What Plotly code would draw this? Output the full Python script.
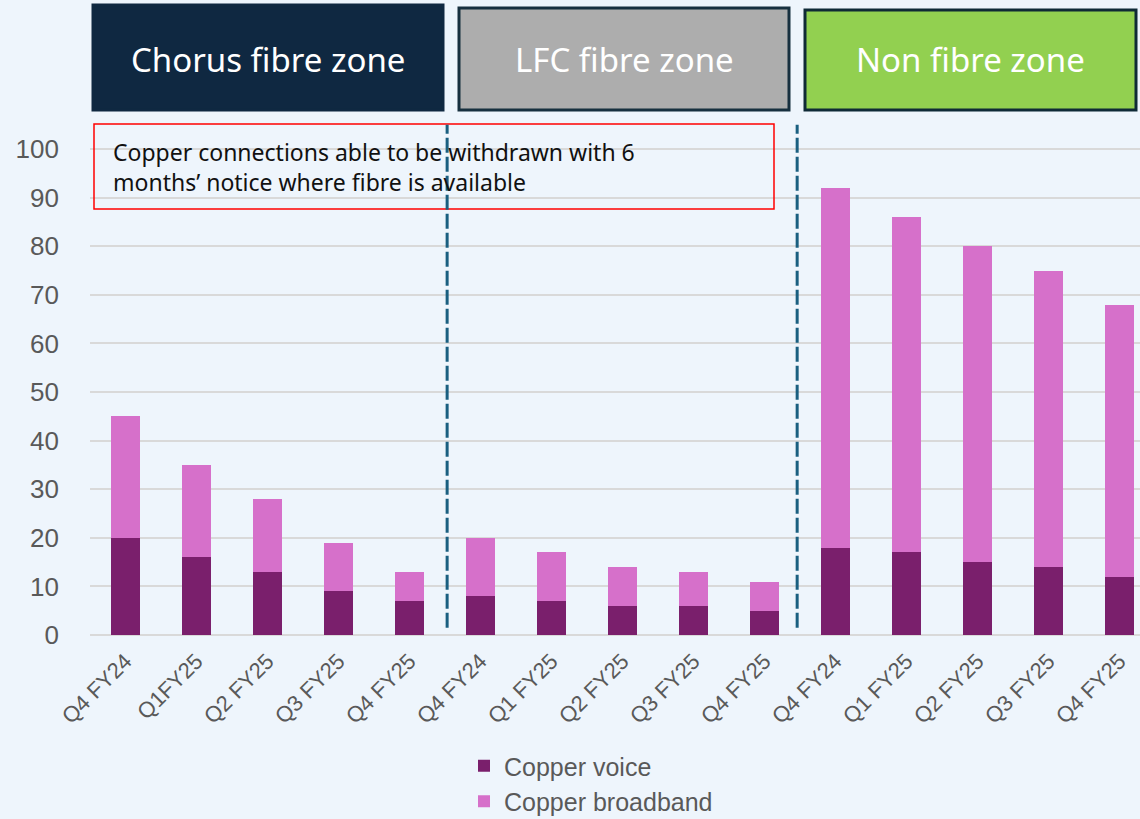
import plotly.graph_objects as go

categories = ["Q4 FY24", "Q1FY25", "Q2 FY25", "Q3 FY25", "Q4 FY25",
              "Q4 FY24", "Q1 FY25", "Q2 FY25", "Q3 FY25", "Q4 FY25",
              "Q4 FY24", "Q1 FY25", "Q2 FY25", "Q3 FY25", "Q4 FY25"]
copper_voice = [20, 16, 13, 9, 7, 8, 7, 6, 6, 5, 18, 17, 15, 14, 12]
copper_broadband = [25, 19, 15, 10, 6, 12, 10, 8, 7, 6, 74, 69, 65, 61, 56]
zone_names = ["Chorus fibre zone", "LFC fibre zone", "Non fibre zone"]
notice_text = "Copper connections able to be withdrawn with 6<br>months\u2019 notice where fibre is available"
y_ticks = [0, 10, 20, 30, 40, 50, 60, 70, 80, 90, 100]

W, H = 1140, 819
L, R, T, B = 90, 0, 122, 184
PW = W - L - R
PH = H - T - B


def px(x):
    return (x - L) / PW


def py(y):
    return (H - B - y) / PH


xs = list(range(len(categories)))
BG = "#EEF5FC"

fig = go.Figure()
fig.add_trace(go.Bar(x=xs, y=copper_voice, name="Copper voice", legendgroup="v",
                     marker=dict(color="#7A1F6C", line=dict(width=0))))
fig.add_trace(go.Bar(x=xs, y=copper_broadband, name="Copper broadband", legendgroup="b",
                     marker=dict(color="#D670CA", line=dict(width=0))))

shapes = []
annotations = []
boxes = [
    (93, 5, 443, 110, "#0F2841", "#0F2841"),
    (459, 8, 789, 110, "#ADADAD", "#17303F"),
    (805, 10, 1136, 110, "#92D050", "#0F2A36"),
]
for (x0, y0, x1, y1, fill, border), name in zip(boxes, zone_names):
    shapes.append(dict(type="rect", xref="paper", yref="paper",
                       x0=px(x0), x1=px(x1), y0=py(y1), y1=py(y0),
                       fillcolor=fill, line=dict(color=border, width=3), layer="above"))
    annotations.append(dict(xref="paper", yref="paper",
                            x=px((x0 + x1) / 2), y=py(59),
                            text=name, showarrow=False,
                            font=dict(family="Noto Sans", size=33, color="white"),
                            xanchor="center", yanchor="middle"))

# red notice box
shapes.append(dict(type="rect", xref="paper", yref="paper",
                   x0=px(94), x1=px(774), y0=py(209), y1=py(124),
                   fillcolor="rgba(0,0,0,0)", line=dict(color="#FF0000", width=1.5),
                   layer="above"))
annotations.append(dict(xref="paper", yref="paper", x=px(111), y=py(167),
                        text=notice_text, showarrow=False, align="left",
                        xanchor="left", yanchor="middle",
                        font=dict(family="Noto Sans", size=23, color="#111111")))

# dashed separators
for xv in [4.53, 9.46]:
    shapes.append(dict(type="line", xref="x", yref="y", x0=xv, x1=xv, y0=1.5, y1=105,
                       line=dict(color="#1A5F80", width=3, dash="15px,4px"), layer="above"))

fig.update_layout(
    width=W, height=H,
    margin=dict(l=L, r=R, t=T, b=B, autoexpand=False),
    paper_bgcolor=BG, plot_bgcolor=BG,
    barmode="stack", bargap=0.6,
    shapes=shapes, annotations=annotations,
    font=dict(family="Liberation Sans, Arial", color="#595959"),
    legend=dict(orientation="v", x=px(464), y=py(743), xanchor="left", yanchor="top",
                traceorder="normal", font=dict(size=25, color="#595959"),
                bgcolor="rgba(0,0,0,0)", itemwidth=30, tracegroupgap=8),
    showlegend=True,
)
fig.update_xaxes(range=[-0.5, -0.5 + PW / 71.0], tickmode="array", tickvals=xs,
                 ticktext=categories, tickangle=-45, showgrid=False, zeroline=False,
                 showline=False, ticks="", ticklabelstandoff=8,
                 tickfont=dict(size=22, color="#595959"))
fig.update_yaxes(range=[0, PH / 4.86], tickmode="array", tickvals=y_ticks,
                 showgrid=True, gridcolor="#D9D9D9", gridwidth=1.5, zeroline=True,
                 zerolinecolor="#D9D9D9", zerolinewidth=1.5, ticks="", ticklabelstandoff=30,
                 tickfont=dict(size=26, color="#595959"))

fig.write_html("out.html", config={"displayModeBar": False},
               post_script="document.body.style.margin='0px';document.body.style.overflow='hidden';")
